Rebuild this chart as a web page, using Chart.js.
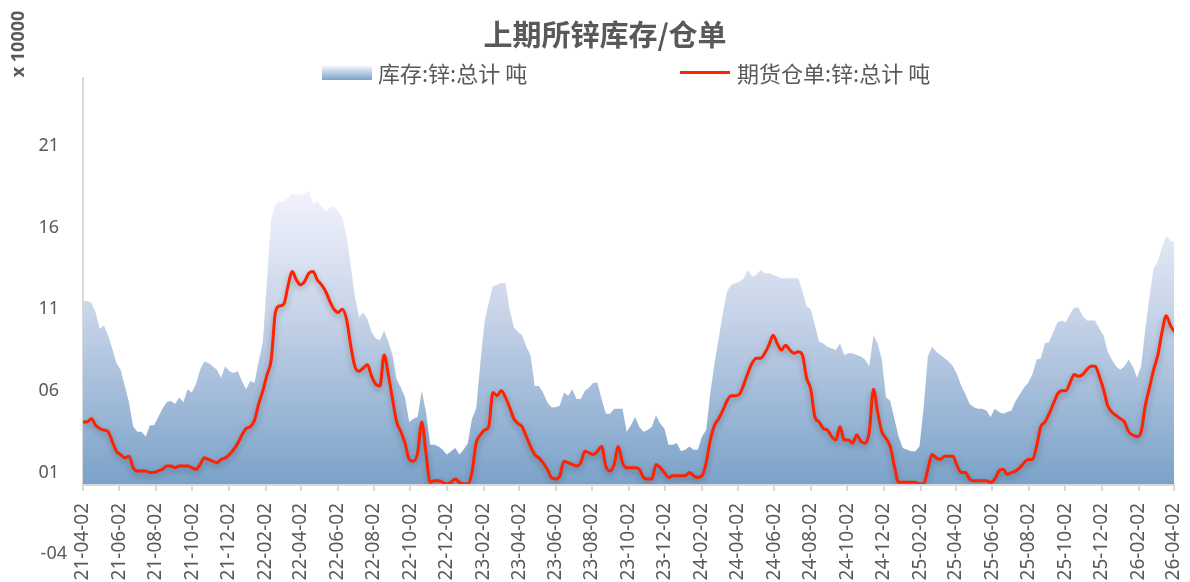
<!DOCTYPE html>
<html>
<head>
<meta charset="utf-8">
<script src="https://cdn.jsdelivr.net/npm/chart.js@4.4.1/dist/chart.umd.min.js"></script>
<style>
  body { margin: 0; background: #fff; }
  #wrap { position: relative; width: 1190px; height: 582px; font-family: "Noto Sans CJK SC", "Noto Sans", sans-serif; color: #595959; }
  #title { position: absolute; top: 12px; left: 0; width: 1210px; text-align: center; font-size: 29px; font-weight: bold; }
  .lg-text { position: absolute; top: 58px; font-size: 22px; line-height: 28px; }
  .lg-box { position: absolute; }
</style>
</head>
<body>
<div id="wrap">
  <canvas id="myChart" width="1190" height="582"></canvas>
  <div id="title">上期所锌库存/仓单</div>
  <span class="lg-box" style="left:322px; top:66px; width:50px; height:14px; background:linear-gradient(#f3f3fd, #7ba2c9);"></span>
  <span class="lg-text" style="left:378px;">库存:锌:总计 吨</span>
  <span class="lg-box" style="left:680px; top:71px; width:50px; height:3px; background:#ff2200;"></span>
  <span class="lg-text" style="left:737px;">期货仓单:锌:总计 吨</span>
</div>
<script>
// weekly data (Fridays) starting 2021-04-02, unit: 10000 tons
var startDate = '2021-04-02';

var inventory = [
    11.5, 11.5, 11.4, 10.8, 9.8, 10.0, 9.4, 8.6, 7.7, 7.3,
    6.3, 5.3, 3.8, 3.5, 3.5, 3.2, 3.9, 3.9, 4.4, 4.9,
    5.3, 5.4, 5.2, 5.6, 5.3, 6.1, 5.9, 6.4, 7.3, 7.8,
    7.7, 7.5, 7.3, 6.8, 7.5, 7.2, 7.1, 7.2, 6.6, 6.1,
    6.6, 6.5, 7.8, 9.0, 12.8, 16.5, 17.4, 17.6, 17.6, 17.8,
    18.1, 18.0, 18.0, 18.1, 18.2, 17.5, 17.6, 17.3, 17.0, 17.2,
    17.3, 17.0, 16.6, 15.5, 13.7, 11.8, 10.5, 10.8, 10.4, 9.6,
    9.2, 9.1, 9.7, 9.0, 8.2, 6.7, 6.2, 5.6, 4.1, 4.3,
    4.4, 6.0, 4.7, 2.7, 2.7, 2.6, 2.4, 2.1, 2.3, 2.5,
    2.1, 2.4, 2.8, 4.3, 4.9, 7.7, 10.2, 11.4, 12.4, 12.5,
    12.6, 12.6, 11.0, 9.9, 9.6, 9.4, 8.7, 8.2, 6.3, 6.3,
    5.9, 5.3, 5.0, 5.0, 5.1, 5.9, 5.7, 6.1, 5.5, 5.5,
    6.0, 6.2, 6.5, 6.5, 5.5, 4.6, 4.6, 4.9, 4.9, 4.9,
    3.5, 3.9, 4.4, 3.8, 3.5, 3.6, 3.8, 4.5, 4.0, 3.7,
    2.7, 2.7, 2.8, 2.3, 2.4, 2.6, 2.4, 2.4, 3.2, 3.6,
    5.9, 7.7, 9.2, 10.8, 12.1, 12.5, 12.6, 12.7, 12.9, 13.4,
    13.0, 13.1, 13.4, 13.2, 13.2, 13.1, 13.0, 12.9, 12.9, 12.9,
    12.9, 12.9, 12.1, 11.2, 11.0, 10.0, 9.0, 8.9, 8.7, 8.6,
    8.5, 8.9, 8.2, 8.3, 8.3, 8.2, 8.1, 7.9, 7.5, 9.4,
    8.9, 7.9, 5.6, 5.4, 4.3, 3.2, 2.5, 2.4, 2.3, 2.3,
    2.6, 5.0, 8.1, 8.7, 8.4, 8.2, 8.0, 7.8, 7.5, 7.0,
    6.3, 5.8, 5.2, 5.0, 4.9, 4.9, 4.8, 4.4, 4.9, 4.7,
    4.6, 4.7, 4.8, 5.4, 5.8, 6.2, 6.5, 7.0, 7.9, 8.0,
    8.9, 9.0, 9.6, 10.2, 10.3, 10.2, 10.7, 11.1, 11.1, 10.6,
    10.3, 10.3, 10.3, 9.8, 9.4, 8.4, 7.9, 7.5, 7.3, 7.5,
    7.9, 7.5, 6.8, 7.5, 9.8, 11.8, 13.5, 13.9, 14.8, 15.5,
    15.2, 15.1
];

var warrants = [
    4.1, 4.1, 4.3, 3.9, 3.7, 3.6, 3.5, 2.9, 2.3, 2.1,
    1.9, 2.0, 1.3, 1.1, 1.1, 1.1, 1.0, 1.0, 1.1, 1.2,
    1.4, 1.4, 1.3, 1.4, 1.4, 1.4, 1.3, 1.2, 1.5, 1.9,
    1.8, 1.7, 1.6, 1.8, 1.9, 2.1, 2.4, 2.8, 3.3, 3.7,
    3.8, 4.2, 5.2, 6.0, 7.0, 7.9, 10.8, 11.2, 11.3, 12.4,
    13.3, 12.8, 12.5, 12.7, 13.2, 13.3, 12.8, 12.5, 12.1, 11.5,
    11.0, 10.8, 11.0, 10.4, 8.8, 7.5, 7.2, 7.4, 7.6, 6.9,
    6.4, 6.3, 8.2, 7.0, 5.5, 4.1, 3.5, 2.8, 1.8, 1.7,
    2.2, 4.1, 2.2, 0.4, 0.5, 0.5, 0.4, 0.3, 0.4, 0.6,
    0.4, 0.3, 0.3, 1.0, 2.8, 3.3, 3.6, 3.8, 5.9, 5.7,
    6.0, 5.6, 5.0, 4.3, 4.0, 3.8, 3.2, 2.6, 2.1, 1.9,
    1.6, 1.2, 0.7, 0.6, 0.8, 1.7, 1.6, 1.5, 1.4, 1.6,
    2.3, 2.2, 2.1, 2.3, 2.6, 1.4, 1.1, 1.5, 2.6, 1.6,
    1.3, 1.3, 1.3, 1.2, 0.7, 0.6, 0.6, 1.5, 1.3, 1.0,
    0.7, 0.8, 0.8, 0.8, 0.8, 1.0, 0.8, 0.7, 0.8, 1.6,
    3.0, 3.9, 4.3, 4.8, 5.4, 5.7, 5.7, 5.8, 6.4, 7.1,
    7.7, 8.0, 8.0, 8.3, 8.8, 9.4, 8.9, 8.5, 8.8, 8.5,
    8.3, 8.4, 8.2, 6.8, 6.1, 4.4, 4.1, 3.7, 3.6, 3.2,
    3.0, 3.8, 3.0, 3.0, 2.8, 3.3, 2.9, 2.8, 3.5, 6.1,
    4.7, 3.5, 3.1, 2.6, 1.4, 0.4, 0.4, 0.4, 0.4, 0.4,
    0.3, 0.3, 1.2, 2.1, 1.9, 1.8, 2.0, 2.0, 2.0, 1.4,
    1.0, 1.0, 0.6, 0.5, 0.5, 0.5, 0.5, 0.4, 0.6, 1.1,
    1.2, 0.9, 1.0, 1.1, 1.3, 1.6, 1.8, 1.8, 2.6, 3.8,
    4.1, 4.6, 5.2, 5.8, 6.0, 6.0, 6.5, 7.0, 6.9, 7.0,
    7.3, 7.5, 7.5, 6.9, 6.1, 5.1, 4.7, 4.5, 4.3, 4.1,
    3.5, 3.3, 3.2, 3.5, 5.1, 6.2, 7.3, 8.2, 9.6, 10.6,
    10.0, 9.6
];

var xTickLabels = [
    '21-04-02', '21-06-02', '21-08-02', '21-10-02', '21-12-02',
    '22-02-02', '22-04-02', '22-06-02', '22-08-02', '22-10-02', '22-12-02',
    '23-02-02', '23-04-02', '23-06-02', '23-08-02', '23-10-02', '23-12-02',
    '24-02-02', '24-04-02', '24-06-02', '24-08-02', '24-10-02', '24-12-02',
    '25-02-02', '25-04-02', '25-06-02', '25-08-02', '25-10-02', '25-12-02',
    '26-02-02', '26-04-02'
];

var yTickValues = [-4, 1, 6, 11, 16, 21];

function dayOf(s) {
    return (Date.parse(s) - Date.parse(startDate)) / 86400000;
}
var xTickDays = xTickLabels.map(function(l) { return dayOf('20' + l); });

function fmtY(v) {
    return (v < 0 ? '-' : '') + String(Math.abs(v)).padStart(2, '0');
}

var labelColor = '#595959';
var yPad = 16;

// y ticks lying below the axis (e.g. -04) and the unit label
var extrasPlugin = {
    id: 'extras',
    afterDraw: function(chart) {
        var ctx = chart.ctx;
        var y = chart.scales.y;
        ctx.save();
        ctx.fillStyle = labelColor;
        ctx.font = '18px "Noto Sans"';
        ctx.textAlign = 'right';
        ctx.textBaseline = 'middle';
        yTickValues.forEach(function(v) {
            if (v < y.min) ctx.fillText(fmtY(v), chart.chartArea.left - yPad, y.getPixelForValue(v));
        });
        ctx.translate(19, 44);
        ctx.rotate(-Math.PI / 2);
        ctx.textAlign = 'center';
        ctx.font = 'bold 18px "Noto Sans"';
        ctx.fillText('x 10000', 0, 0);
        ctx.restore();
    },
    beforeDatasetDraw: function(chart, args) {
        if (args.index === 1) {
            chart.ctx.save();
            chart.ctx.shadowColor = 'rgba(0,0,0,0.28)';
            chart.ctx.shadowBlur = 6;
            chart.ctx.shadowOffsetY = 3;
        }
    },
    afterDatasetDraw: function(chart, args) {
        if (args.index === 1) chart.ctx.restore();
    }
};

var ctx = document.getElementById('myChart').getContext('2d');
var chart = new Chart(ctx, {
    type: 'line',
    data: {
        datasets: [{
            label: '库存:锌:总计 吨',
            data: inventory.map(function(v, i) { return { x: i * 7, y: v }; }),
            fill: 'start',
            borderWidth: 0,
            pointRadius: 0,
            tension: 0,
            order: 2,
            backgroundColor: function(context) {
                var a = context.chart.chartArea;
                if (!a) return '#9fb8d6';
                var top = context.chart.scales.y.getPixelForValue(18.5);
                var g = context.chart.ctx.createLinearGradient(0, top, 0, a.bottom);
                g.addColorStop(0, '#f3f3fd');
                g.addColorStop(0.4, '#cbd6ea');
                g.addColorStop(1, '#7ba2c9');
                return g;
            }
        }, {
            label: '期货仓单:锌:总计 吨',
            data: warrants.map(function(v, i) { return { x: i * 7, y: v }; }),
            borderColor: '#ff2200',
            borderWidth: 3,
            pointRadius: 0,
            fill: false,
            cubicInterpolationMode: 'monotone',
            order: 1
        }]
    },
    options: {
        responsive: false,
        animation: false,
        devicePixelRatio: 1,
        layout: { padding: { top: 78, right: 16, left: 0, bottom: 0 } },
        plugins: {
            legend: { display: false },
            title: { display: false },
            tooltip: { enabled: false }
        },
        scales: {
            x: {
                type: 'linear',
                min: 0,
                max: 1826,
                afterBuildTicks: function(scale) {
                    scale.ticks = xTickDays.map(function(d) { return { value: d }; });
                },
                afterFit: function(scale) {
                    scale.height = 98;
                    scale.paddingLeft = 0;
                    scale.paddingRight = 0;
                },
                grid: { display: true, drawOnChartArea: false, drawTicks: true, tickLength: 7, color: '#d9d9d9', lineWidth: 2 },
                border: { display: true, color: '#d9d9d9', width: 3 },
                ticks: {
                    autoSkip: false,
                    minRotation: 90,
                    maxRotation: 90,
                    padding: 12,
                    color: labelColor,
                    font: { family: 'Noto Sans', size: 19 },
                    callback: function(value, index) { return xTickLabels[index]; }
                }
            },
            y: {
                min: 0.3,
                max: 25.15,
                afterBuildTicks: function(scale) {
                    scale.ticks = yTickValues.filter(function(v) { return v >= scale.min && v <= scale.max; })
                        .map(function(v) { return { value: v }; });
                },
                afterFit: function(scale) { scale.width = 83; },
                grid: { display: false },
                border: { display: true, color: '#d9d9d9', width: 2 },
                ticks: {
                    padding: yPad,
                    color: labelColor,
                    font: { family: 'Noto Sans', size: 18 },
                    callback: function(value) { return fmtY(value); }
                }
            }
        }
    },
    plugins: [extrasPlugin]
});
</script>
</body>
</html>
